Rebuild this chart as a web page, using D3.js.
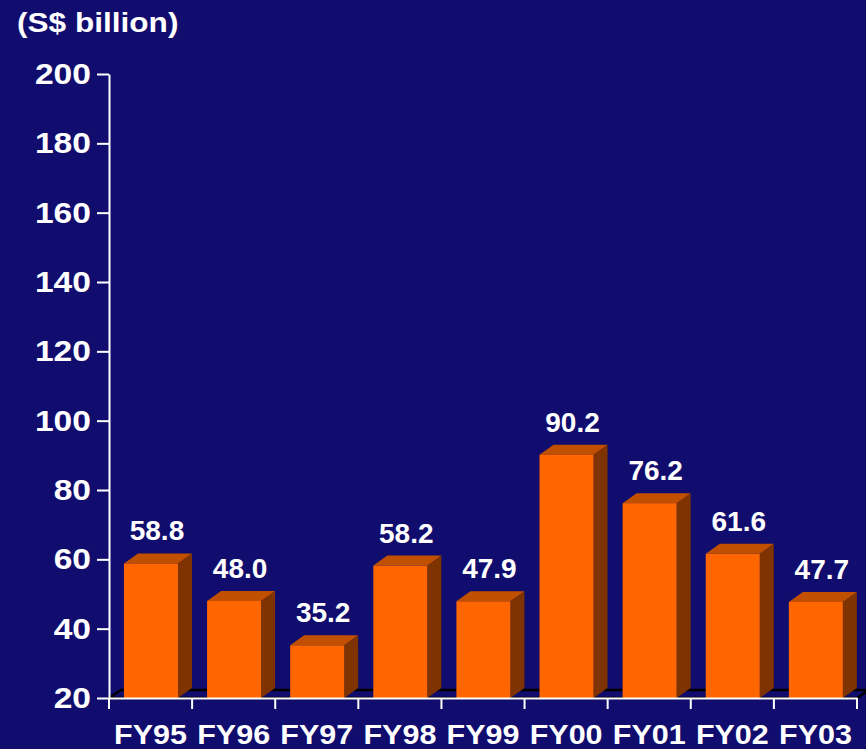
<!DOCTYPE html>
<html>
<head>
<meta charset="utf-8">
<script src="https://cdnjs.cloudflare.com/ajax/libs/d3/7.8.5/d3.min.js"></script>
<style>
    html, body { margin: 0; padding: 0; background: #110d6e; }
    svg { display: block; }
    text { font-family: "Liberation Sans", Arial, sans-serif; font-weight: bold; fill: #fff; }
</style>
</head>
<body>
<svg id="chart" width="866" height="749"></svg>
<script>
// данные графика
var categories = ['FY95', 'FY96', 'FY97', 'FY98', 'FY99', 'FY00', 'FY01', 'FY02', 'FY03'];
var values = [58.8, 48.0, 35.2, 58.2, 47.9, 90.2, 76.2, 61.6, 47.7];
var yTicks = [20, 40, 60, 80, 100, 120, 140, 160, 180, 200];
var unitLabel = '(S$ billion)';

(function () {
    'use strict';

    var svg = d3.select('#chart'),
        left = 109, right = 857, top = 74, bottom = 698,
        depthX = 14, depthY = 10,   // глубина столбцов
        floorX = 12, floorY = 8;    // глубина "пола"

    var x = d3.scaleBand().domain(categories).range([left, right]).padding(0);
    var y = d3.scaleLinear().domain([20, 200]).range([bottom, top]);

    var barOffset = x.bandwidth() * 0.18,
        barWidth = x.bandwidth() * 0.65;

    // фон
    svg.append('rect').attr('width', 866).attr('height', 749).attr('fill', '#110d6e');

    // подпись единиц
    svg.append('text')
        .attr('transform', 'translate(17,32) scale(1.17,1)')
        .style('font-size', '27px')
        .text(unitLabel);

    // пол
    svg.append('polygon')
        .attr('points', [
            [left, bottom], [left + floorX, bottom - floorY],
            [right + floorX, bottom - floorY], [right, bottom]
        ].join(' '))
        .attr('fill', '#110d6e')
        .attr('stroke', '#000')
        .attr('stroke-width', 2.5);

    var data = categories.map(function (c, i) { return { cat: c, value: values[i] }; });

    var bars = svg.selectAll('g.bar')
        .data(data)
        .enter()
        .append('g')
        .attr('class', 'bar');

    // боковая грань
    bars.append('polygon')
        .attr('fill', '#7f3300')
        .attr('points', function (d) {
            var x1 = x(d.cat) + barOffset + barWidth, yt = y(d.value), yb = y(20);
            return [[x1, yt], [x1 + depthX, yt - depthY], [x1 + depthX, yb - depthY], [x1, yb]].join(' ');
        });

    // верхняя грань
    bars.append('polygon')
        .attr('fill', '#c04f00')
        .attr('points', function (d) {
            var x0 = x(d.cat) + barOffset, yt = y(d.value);
            return [[x0, yt], [x0 + depthX, yt - depthY], [x0 + barWidth + depthX, yt - depthY], [x0 + barWidth, yt]].join(' ');
        });

    // передняя грань
    bars.append('rect')
        .attr('fill', '#ff6600')
        .attr('x', function (d) { return x(d.cat) + barOffset; })
        .attr('y', function (d) { return y(d.value); })
        .attr('width', barWidth)
        .attr('height', function (d) { return y(20) - y(d.value); });

    // значения над столбцами
    bars.append('text')
        .attr('text-anchor', 'middle')
        .style('font-size', '28px')
        .attr('x', function (d) { return x(d.cat) + barOffset + barWidth / 2 + 6; })
        .attr('y', function (d) { return y(d.value) - 23; })
        .text(function (d) { return d.value.toFixed(1); });

    // ось Y
    var yAxis = svg.append('g')
        .attr('transform', 'translate(' + left + ',0)')
        .call(d3.axisLeft(y).tickValues(yTicks).tickSize(12).tickSizeOuter(0));

    yAxis.selectAll('path, line').attr('stroke', '#fff').attr('stroke-width', 2);
    yAxis.selectAll('text')
        .attr('x', 0)
        .attr('fill', '#fff')
        .style('font-size', '30px')
        .attr('font-family', null)
        .attr('transform', 'translate(-18,0) scale(1.12,1)');

    // ось X
    var xAxis = svg.append('g')
        .attr('transform', 'translate(0,' + bottom + ')')
        .call(d3.axisBottom(x).tickSize(0).tickSizeOuter(0));

    xAxis.select('path').attr('stroke', '#fff').attr('stroke-width', 2);
    xAxis.selectAll('text')
        .attr('y', 0)
        .attr('dy', 0)
        .attr('fill', '#fff')
        .style('font-size', '28px')
        .attr('font-family', null)
        .attr('transform', 'translate(0,46) scale(1.09,1)');

    // засечки на границах категорий
    xAxis.selectAll('line.sep')
        .data(d3.range(categories.length + 1))
        .enter()
        .append('line')
        .attr('class', 'sep')
        .attr('x1', function (i) { return left + i * x.step(); })
        .attr('x2', function (i) { return left + i * x.step(); })
        .attr('y1', 0)
        .attr('y2', 11)
        .attr('stroke', '#fff')
        .attr('stroke-width', 2);
})();
</script>
</body>
</html>
